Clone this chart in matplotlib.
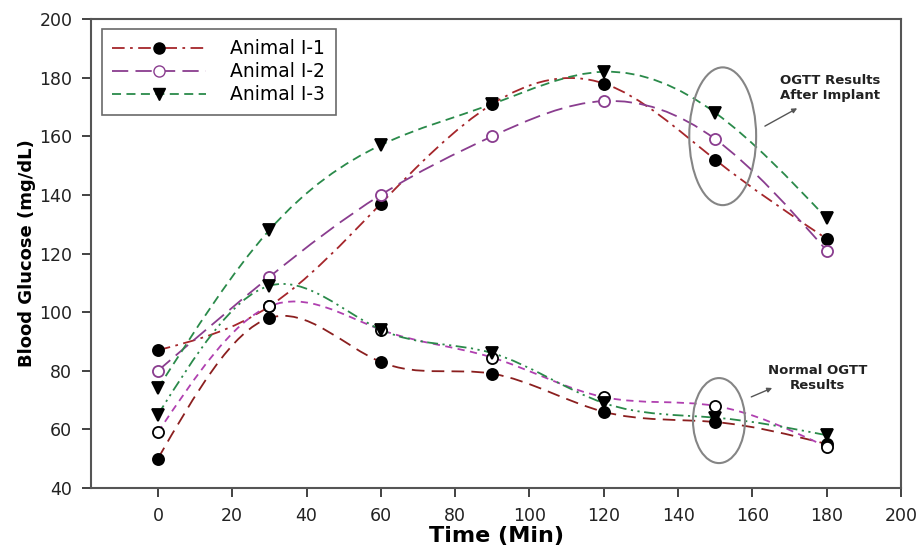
import numpy as np
import matplotlib
matplotlib.use("Agg")
import matplotlib.pyplot as plt
from matplotlib.path import Path
from matplotlib.patches import PathPatch, Ellipse
from matplotlib.lines import Line2D

plt.rcParams['font.family'] = ['DejaVu Sans']

# time points (min)
time = [0, 30, 60, 90, 120, 150, 180]

# OGTT after implant
implant_i1 = [87, 102, 137, 171, 178, 152, 125]
implant_i2 = [80, 112, 140, 160, 172, 159, 121]
implant_i3 = [74, 128, 157, 171, 182, 168, 132]

# normal OGTT
normal_i1 = [50, 98, 83, 79, 66, 62.5, 55]
normal_i2 = [59, 102, 94, 84.5, 71, 68, 54]
normal_i3 = [65, 109, 94, 86, 69, 64, 58]

labels = ['Animal I-1', 'Animal I-2', 'Animal I-3']


def smooth_path(x, y):
    # natural cubic spline through the points, written as bezier segments
    x = np.asarray(x, float)
    y = np.asarray(y, float)
    n = len(x)
    h = np.diff(x)
    A = np.zeros((n, n))
    b = np.zeros(n)
    A[0, 0] = 1
    A[-1, -1] = 1
    for i in range(1, n - 1):
        A[i, i - 1] = h[i - 1]
        A[i, i] = 2 * (h[i - 1] + h[i])
        A[i, i + 1] = h[i]
        b[i] = 6 * ((y[i + 1] - y[i]) / h[i] - (y[i] - y[i - 1]) / h[i - 1])
    M = np.linalg.solve(A, b)
    verts = [(x[0], y[0])]
    codes = [Path.MOVETO]
    for i in range(n - 1):
        s = (y[i + 1] - y[i]) / h[i]
        m0 = s - h[i] * (2 * M[i] + M[i + 1]) / 6
        m1 = s + h[i] * (M[i] + 2 * M[i + 1]) / 6
        verts += [(x[i] + h[i] / 3, y[i] + m0 * h[i] / 3),
                  (x[i + 1] - h[i] / 3, y[i + 1] - m1 * h[i] / 3),
                  (x[i + 1], y[i + 1])]
        codes += [Path.CURVE4] * 3
    return Path(verts, codes)


red = '#a5262b'
purple = '#8a3d8f'
magenta = '#b040b0'
green = '#2a8a4a'
brown = '#8b1f1f'

fig = plt.figure(figsize=(9.22, 5.48), dpi=100)
ax = fig.add_axes([0.0987, 0.1095, 0.8786, 0.8558])

# curves: (values, colour, dash, marker, face, edge) - upper group first
series = [
    (implant_i1, red, (0, (7, 3, 1.5, 3)), 'o', 'black', 'black'),
    (implant_i2, purple, (0, (9, 4)), 'o', 'white', purple),
    (implant_i3, green, (0, (5, 3)), 'v', 'black', 'black'),
    (normal_i1, brown, (0, (7, 4)), 'o', 'black', 'black'),
    (normal_i2, magenta, (0, (4, 3)), 'o', 'white', 'black'),
    (normal_i3, green, (0, (6, 2.5, 1.2, 2.5, 1.2, 2.5)), 'v', 'black', 'black'),
]

for vals, col, dash, mk, face, edge in series:
    ax.add_patch(PathPatch(smooth_path(time, vals), fill=False, edgecolor=col,
                           lw=1.3, linestyle=dash, zorder=2))

for vals, col, dash, mk, face, edge in series:
    ax.plot(time, vals, linestyle='none', marker=mk, markersize=8,
            markerfacecolor=face, markeredgecolor=edge,
            markeredgewidth=1.3, zorder=3)

# ellipses and notes
ax.add_patch(Ellipse((152, 160), 18, 47, fill=False, edgecolor='#858585', lw=1.5, zorder=4))
ax.add_patch(Ellipse((151, 63), 14, 29, fill=False, edgecolor='#858585', lw=1.5, zorder=4))

ax.annotate('', xy=(172.7, 170), xytext=(162.7, 163),
            arrowprops=dict(arrowstyle='-|>', color='#555555', lw=1, mutation_scale=7))
ax.text(181, 176.5, 'OGTT Results\nAfter Implant', ha='center', va='center',
        fontsize=9.5, fontweight='bold', color='#222222', linespacing=1.15)

ax.annotate('', xy=(166, 74.5), xytext=(159, 70.7),
            arrowprops=dict(arrowstyle='-|>', color='#555555', lw=1, mutation_scale=7))
ax.text(177.6, 77.5, 'Normal OGTT\nResults', ha='center', va='center',
        fontsize=9.5, fontweight='bold', color='#222222', linespacing=1.15)

# legend
handles = [
    Line2D([], [], color=red, lw=1.3, linestyle=(0, (7, 3, 1.5, 3)), marker='o',
           markersize=8, markerfacecolor='black', markeredgecolor='black'),
    Line2D([], [], color=purple, lw=1.3, linestyle=(0, (9, 4)), marker='o',
           markersize=8, markerfacecolor='white', markeredgecolor=purple),
    Line2D([], [], color=green, lw=1.3, linestyle=(0, (5, 3)), marker='v',
           markersize=8, markerfacecolor='black', markeredgecolor='black'),
]
leg = ax.legend(handles, labels, loc='upper left', bbox_to_anchor=(0.0136, 0.979),
                borderaxespad=0, fontsize=13.5, handlelength=5.0, frameon=True,
                fancybox=False, edgecolor='#444444', borderpad=0.55,
                labelspacing=0.22, handletextpad=1.3)
leg.get_frame().set_linewidth(1.2)

ax.set_xlim(-18, 200)
ax.set_ylim(40, 200)
ax.set_xticks(np.arange(0, 201, 20))
ax.set_yticks(np.arange(40, 201, 20))
ax.tick_params(direction='out', length=6.5, width=1.2, labelsize=12.5,
               colors='#222222', pad=7)
for sp in ax.spines.values():
    sp.set_color('#555555')
    sp.set_linewidth(1.5)

ax.set_xlabel('Time (Min)', fontsize=16, fontweight='bold', labelpad=1)
ax.set_ylabel('Blood Glucose (mg/dL)', fontsize=13, fontweight='bold', labelpad=2)

fig.savefig('out.png', dpi=100)
